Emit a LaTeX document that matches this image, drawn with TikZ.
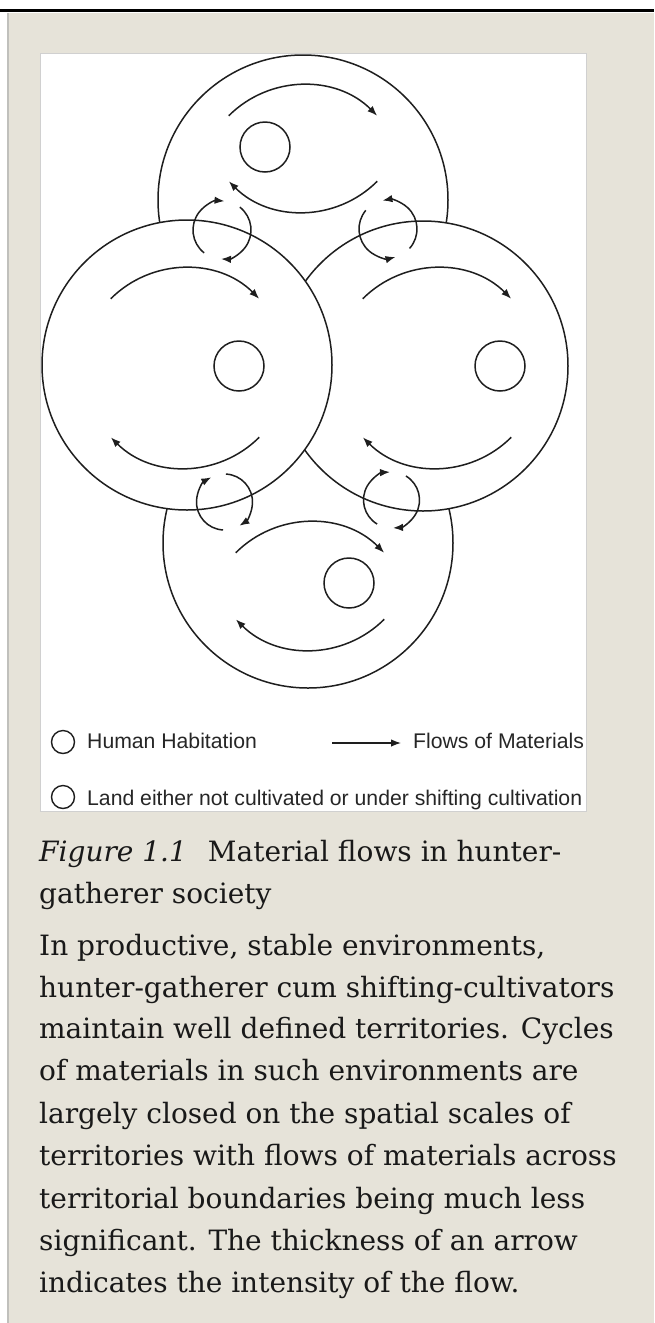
\documentclass[tikz,border=0pt]{standalone}
\usepackage{fontspec}
\setmainfont{DejaVu Serif}
\newfontfamily\legendfont{Liberation Sans}
\usetikzlibrary{arrows.meta}
\definecolor{panelbg}{RGB}{230,227,217}
\definecolor{panelrule}{RGB}{192,192,188}
\definecolor{boxrule}{RGB}{208,208,208}
\definecolor{inkc}{RGB}{30,30,30}
\begin{document}
\begin{tikzpicture}[x=1pt,y=-1pt,
  territory/.style={circle,draw=inkc,line width=1.5pt,fill=white,minimum size=290pt,inner sep=0pt},
  home/.style={circle,draw=inkc,line width=1.5pt,minimum size=50pt,inner sep=0pt},
  legring/.style={circle,draw=inkc,line width=1.4pt,minimum size=23pt,inner sep=0pt},
  flow/.style={draw=inkc,line width=1.5pt,-{Latex[length=10pt,width=7.5pt]}},
  legtext/.style={font=\legendfont\fontsize{21.2}{24}\selectfont,anchor=base west,inner sep=0pt,text=black!85},
  captext/.style={font=\fontsize{28}{32}\selectfont,anchor=base west,inner sep=0pt,text=black!90}]
\useasboundingbox (0,0) rectangle (654,1323);
% page, panel and figure box
\fill[white] (0,0) rectangle (654,1323);
\draw[black,line width=2.5pt] (0,10.5) -- (654,10.5);
\fill[panelbg] (7,13) rectangle (654,1323);
\draw[panelrule,line width=2pt] (7.5,13) -- (7.5,1323);
\draw[boxrule,fill=white,line width=1pt] (40.5,53.5) rectangle (586,811);
% territories, lower ones first
\node[territory] (tTop) at (303,200) {};
\node[territory] (tBottom) at (308,543) {};
\node[territory] (tRight) at (423,366) {};
\node[territory] (tLeft) at (187,365) {};
% habitations
\node[home] (hTop) at (265,147) {};
\node[home] (hLeft) at (239,366) {};
\node[home] (hRight) at (500,366) {};
\node[home] (hBottom) at (349,583) {};
% flows inside each territory
\foreach \cx/\cu/\cl in {303/190/107, 185/373/363, 437/373/363, 310/627/545} {
  \draw[flow] (\cx,\cu) ++(135:105pt) arc[start angle=135,end angle=45,radius=105pt];
  \draw[flow] (\cx,\cl) ++(-45:105pt) arc[start angle=-45,end angle=-135,radius=105pt];
}
% flows across the boundaries
\draw[flow] (222,230) ++(232:29pt) arc[start angle=232,end angle=85,radius=29pt];
\draw[flow] (222,230) ++(52:29pt) arc[start angle=52,end angle=-92,radius=29pt];
\draw[flow] (388,229) ++(140:29pt) arc[start angle=140,end angle=285,radius=29pt];
\draw[flow] (388,229) ++(-42:29pt) arc[start angle=-42,end angle=101,radius=29pt];
\draw[flow] (224.5,502) ++(267:28pt) arc[start angle=267,end angle=118,radius=28pt];
\draw[flow] (224.5,502) ++(87:28pt) arc[start angle=87,end angle=-58,radius=28pt];
\draw[flow] (391.5,500) ++(239:28pt) arc[start angle=239,end angle=93,radius=28pt];
\draw[flow] (391.5,500) ++(59:28pt) arc[start angle=59,end angle=-87,radius=28pt];
% legend
\node[legring] (legHome) at (63,742) {};
\node[legtext] (legHomeText) at (87,748) {Human Habitation};
\coordinate (legA) at (332,743);
\coordinate (legB) at (401,743);
\draw[flow,line width=1.3pt] (legA) -- (legB);
\node[legtext] (legFlowText) at (413,748) {Flows of Materials};
\node[legring] (legLand) at (63,797) {};
\node[legtext] (legLandText) at (87,805) {Land either not cultivated or under shifting cultivation};
% caption
\node[captext] (cap1) at (39,861) {\textit{Figure 1.1}\hspace{0.75em}Material flows in hunter-};
\node[captext] (cap2) at (39,903) {gatherer society};
\node[captext] (par1) at (39,955) {In productive, stable environments,};
\node[captext] (par2) at (39,997) {hunter-gatherer cum shifting-cultivators};
\node[captext] (par3) at (39,1038) {maintain well defined territories. Cycles};
\node[captext] (par4) at (39,1080) {of materials in such environments are};
\node[captext] (par5) at (39,1123) {largely closed on the spatial scales of};
\node[captext] (par6) at (39,1165) {territories with flows of materials across};
\node[captext] (par7) at (39,1208) {territorial boundaries being much less};
\node[captext] (par8) at (39,1250) {significant. The thickness of an arrow};
\node[captext] (par9) at (39,1292) {indicates the intensity of the flow.};
\end{tikzpicture}
\end{document}
